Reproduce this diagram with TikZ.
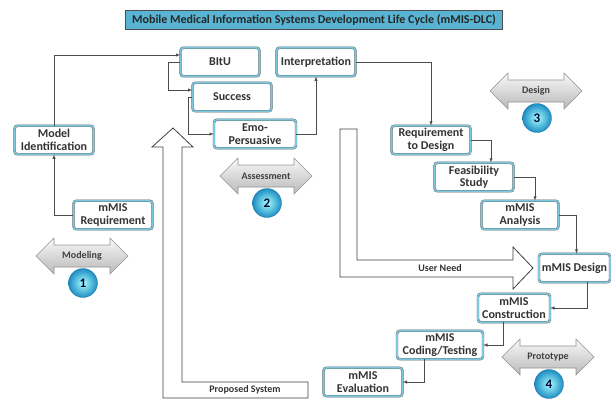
\documentclass[tikz,border=0pt]{standalone}
\usepackage{fontspec}
\setmainfont{Carlito}

\definecolor{titleblue}{RGB}{88,180,210}
\definecolor{rimblue}{RGB}{125,200,222}
\definecolor{ballblue}{RGB}{30,140,195}

\newcommand\phasearrow[5]{%
  \shade[top color=gray!5, bottom color=gray!55, draw=gray!85, line width=0.6pt, shift={(#1,#2)}]
    (-46,0) -- (-28,-18) -- (-28,-11) -- (28,-11) -- (28,-18) -- (46,0)
    -- (28,18) -- (28,11) -- (-28,11) -- (-28,18) -- cycle;
  \node[phase] (#3) at (#1,#2) {#4};
  \node[num] (#3-num) at ([xshift=1pt,yshift=-27pt]#3) {#5};
}

\begin{document}
\begin{tikzpicture}[x=1pt, y=-1pt,
  stage/.style={draw=black!65, double=rimblue, double distance=1.6pt,
    rounded corners=3pt, fill=white, align=center, text=black!80,
    font=\bfseries\fontsize{12}{12.5}\selectfont,
    minimum width=79pt, minimum height=28.5pt, inner sep=1pt},
  flow/.style={-latex, draw=black!70, line width=0.5pt},
  hollow/.style={fill=white, draw=black!75, line width=0.8pt},
  phase/.style={font=\bfseries\fontsize{10}{11}\selectfont, text=black!75},
  num/.style={circle, shading=radial, inner color=cyan!35,
    outer color=ballblue, draw=ballblue!80!black, line width=0.3pt,
    minimum size=29pt, inner sep=0pt,
    font=\bfseries\fontsize{13}{14}\selectfont, text=blue!20!black},
  tag/.style={font=\bfseries\fontsize{10}{11}\selectfont, text=black!80}]
  \useasboundingbox (0,0) rectangle (611,400);

  \node[draw=black!70, line width=0.8pt, fill=titleblue, minimum width=377pt,
    minimum height=19pt, inner sep=1pt, font=\bfseries\fontsize{12}{13}\selectfont,
    text=black!85] (title) at (314,20)
    {Mobile Medical Information Systems Development Life Cycle (mMIS-DLC)};

  \draw[hollow] (182,382) -- (182,147) -- (193,147) -- (173,128) -- (152,147)
    -- (163,147) -- (163,398) -- (308,398) -- (308,382) -- cycle;
  \node[tag] (proposed) at (245,390) {Proposed System};
  \draw[hollow] (340,129) -- (357,129) -- (357,260) -- (513,260) -- (513,247)
    -- (533,268) -- (513,289) -- (513,277) -- (340,277) -- cycle;
  \node[tag] (userneed) at (440,268) {User Need};

  \node[stage] (bitu) at (220,62) {BItU};
  \node[stage] (interp) at (316,62) {Interpretation};
  \node[stage] (success) at (232,97) {Success};
  \node[stage, minimum width=82pt] (emo) at (255,134) {Emo-\\Persuasive};
  \node[stage] (modelid) at (54,140) {Model\\Identification};
  \node[stage] (req) at (113,215) {mMIS\\Requirement};
  \node[stage] (reqdes) at (431,140) {Requirement\\to Design};
  \node[stage] (feas) at (474,177) {Feasibility\\Study};
  \node[stage, minimum width=77pt] (analysis) at (520,215) {mMIS\\Analysis};
  \node[stage, minimum width=71pt] (design) at (574.5,268) {mMIS Design};
  \node[stage, minimum width=72pt] (construct) at (514,308) {mMIS\\Construction};
  \node[stage, minimum width=86pt] (coding) at (440,345) {mMIS\\Coding/Testing};
  \node[stage] (eval) at (363,382) {mMIS\\Evaluation};

  \draw[flow] (req.west) -| (modelid.south);
  \draw[flow] (modelid.north) |- ([yshift=7pt]bitu.west);
  \draw[flow] (bitu.west) -- ++(-12,0) |- ([yshift=7pt]success.west);
  \draw[flow] (success.west) -- ++(-4,0) |- (emo.west);
  \draw[flow] (emo.east) -| (interp.south);
  \draw[flow] (interp.east) -| (reqdes.north);
  \draw[flow] (reqdes.east) -| ([xshift=17pt]feas.north);
  \draw[flow] (feas.east) -| ([xshift=15pt]analysis.north);
  \draw[flow] (analysis.east) -| ([xshift=2pt]design.north);
  \draw[flow] ([xshift=13pt]design.south) |- (construct.east);
  \draw[flow] ([xshift=-11pt]construct.south) |- (coding.east);
  \draw[flow] ([xshift=-16pt]coding.south) |- (eval.east);

  \phasearrow{82}{256}{modeling}{Modeling}{1}
  \phasearrow{266}{176}{assessment}{Assessment}{2}
  \phasearrow{536}{91}{designphase}{Design}{3}
  \phasearrow{548}{357}{prototype}{Prototype}{4}
\end{tikzpicture}
\end{document}
